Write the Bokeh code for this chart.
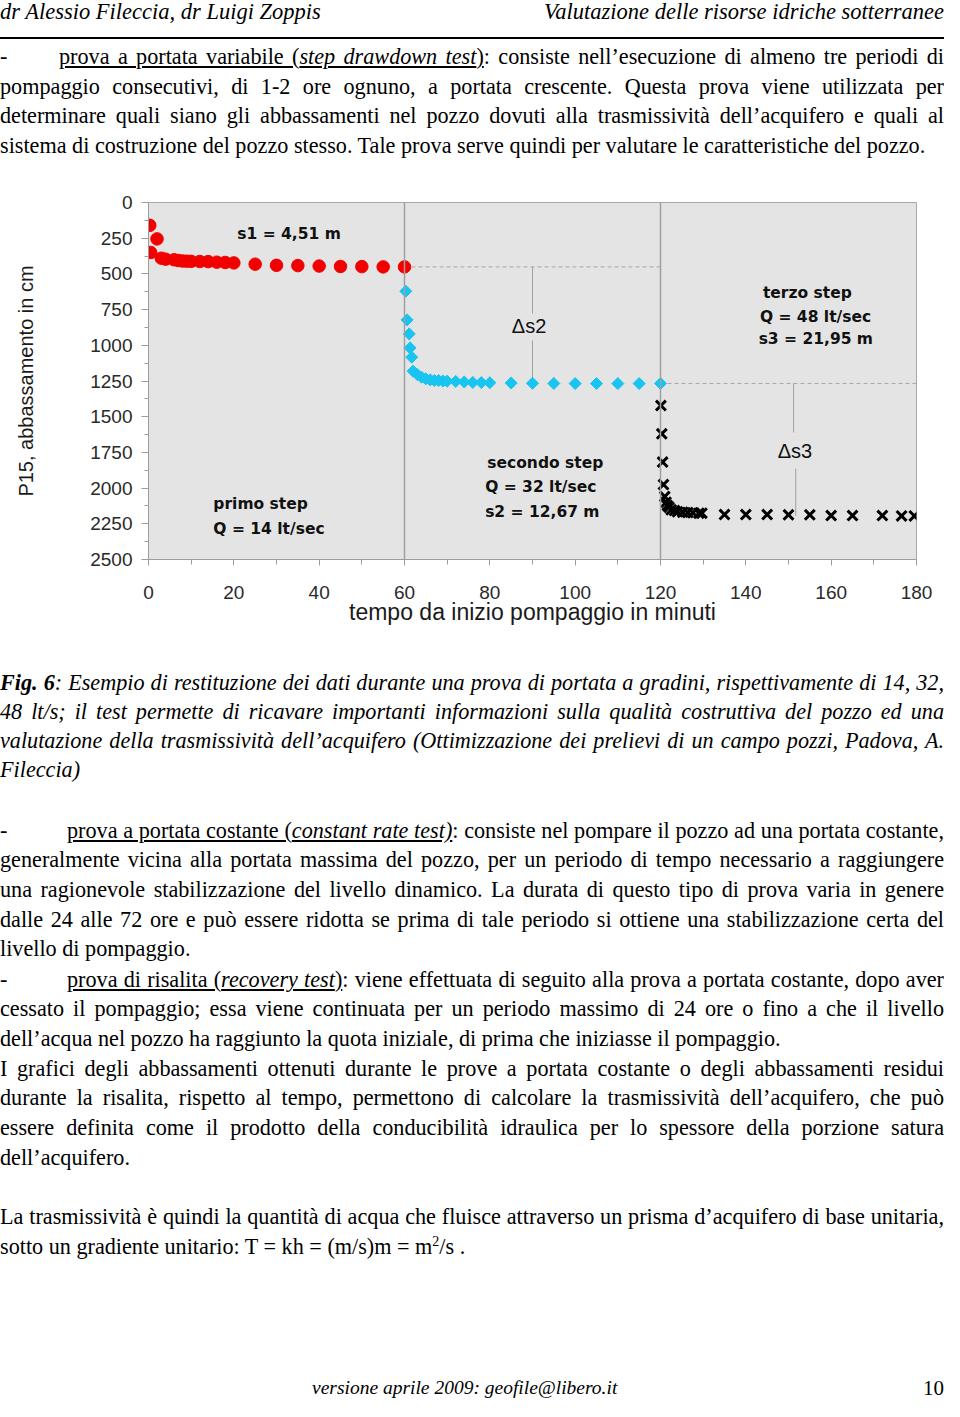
from bokeh.plotting import figure
from bokeh.models import Range1d, Div, Span, FixedTicker, ColumnDataSource
from bokeh.layouts import column
from bokeh.embed import file_html
from bokeh.resources import INLINE
from bokeh.core.properties import value
import numpy as np

# ---------------- data (minutes, drawdown in cm) ----------------
t_step1 = [0.3, 2.0, 0.5, 3.0, 4.0, 6.0, 7.0, 8.0, 9.0, 10.0, 12.0, 14.0, 16.0, 18.0,
           20.0, 25.0, 30.0, 35.0, 40.0, 45.0, 50.0, 55.0, 60.0]
s_step1 = [160, 255, 350, 390, 397, 401, 406, 410, 411, 412, 413, 414, 418, 420,
           423, 432, 440, 442, 445, 448, 449, 451, 451]

t_step2 = [60.3, 60.6, 61.1, 61.3, 61.7, 62.0, 63.0, 64.0, 65.0, 66.0, 67.0, 68.0, 69.0,
           70.0, 72.0, 74.0, 76.0, 78.0, 80.0, 85.0, 90.0, 95.0, 100.0, 105.0, 110.0,
           115.0, 120.0]
s_step2 = [621, 822, 920, 1018, 1083, 1181, 1205, 1223, 1235, 1242, 1246, 1247, 1250,
           1251, 1253, 1257, 1260, 1261, 1262, 1264, 1266, 1267, 1268, 1268, 1268,
           1268, 1267]

t_step3 = [120.1, 120.3, 120.5, 120.7, 121.0, 121.3, 121.6, 122.0, 122.5, 123.3, 124.0,
           125.2, 126.4, 127.6, 129.0, 129.7, 135.0, 140.0, 145.0, 150.0, 155.0, 160.0,
           165.0, 172.0, 176.5, 179.5]
s_step3 = [1422, 1620, 1818, 1975, 2059, 2099, 2122, 2134, 2152, 2157, 2166, 2169, 2171,
           2173, 2176, 2176, 2185, 2185, 2185, 2187, 2187, 2192, 2192, 2192, 2195, 2195]

step_ends = [60, 120]
x_ticks = [0, 20, 40, 60, 80, 100, 120, 140, 160, 180]
y_ticks = [0, 250, 500, 750, 1000, 1250, 1500, 1750, 2000, 2250, 2500]

x_title = "tempo da inizio pompaggio in minuti"
y_title = "P15, abbassamento in cm"

# ---------------- chart ----------------
p = figure(frame_width=768, frame_height=357,
           min_border_left=148, min_border_right=28,
           min_border_top=14, min_border_bottom=81,
           x_range=Range1d(0, 180), y_range=Range1d(2500, 0),
           output_backend="svg", toolbar_location=None, tools="",
           border_fill_color="white")
p.margin = 0
p.background_fill_color = "#e4e4e4"
p.outline_line_color = "#a8a8a8"
p.outline_line_width = 1
p.grid.visible = False

for ax in (p.xaxis[0], p.yaxis[0]):
    ax.axis_line_color = "#9c9c9c"
    ax.major_tick_line_color = "#9c9c9c"
    ax.minor_tick_line_color = "#9c9c9c"
    ax.major_tick_in = 0
    ax.minor_tick_in = 0
    ax.major_label_text_font = "Liberation Sans"
    ax.major_label_text_font_size = "19px"
    ax.major_label_text_color = "#2a2a2a"
    ax.axis_label_text_font = "Liberation Sans"
    ax.axis_label_text_font_style = "normal"
    ax.axis_label_text_color = "#1a1a1a"

p.xaxis.ticker = FixedTicker(ticks=x_ticks, minor_ticks=list(range(10, 180, 20)))
p.yaxis.ticker = FixedTicker(ticks=y_ticks, minor_ticks=list(range(125, 2500, 250)))
p.xaxis.major_tick_out = 6
p.xaxis.minor_tick_out = 5
p.yaxis.major_tick_out = 7
p.yaxis.minor_tick_out = 4
p.xaxis.major_label_standoff = 20
p.yaxis.major_label_standoff = 9
p.xaxis.axis_label = x_title
p.yaxis.axis_label = y_title
p.xaxis.axis_label_text_font_size = "23px"
p.yaxis.axis_label_text_font_size = "20px"
p.xaxis.axis_label_standoff = -3
p.yaxis.axis_label_standoff = 50

# step separators
for t in step_ends:
    p.add_layout(Span(location=t, dimension="height", line_color="#a0a0a0", line_width=1.5))

# dashed levels at end of steps
s1_end = s_step1[-1]
s2_end = s_step2[-1]
s3_end = s_step3[-1]
p.segment(x0=[step_ends[0], step_ends[1]], y0=[s1_end, s2_end],
          x1=[step_ends[1], 180], y1=[s1_end, s2_end],
          line_color="#a8a8a8", line_width=1, line_dash="4 3")

# delta markers (vertical connectors with a gap for the label)
p.segment(x0=[90, 90], y0=[s1_end, 966], x1=[90, 90], y1=[777, s2_end],
          line_color="#a0a0a0", line_width=1)
p.segment(x0=[151.2, 151.7], y0=[s2_end, 1863], x1=[151.2, 151.7], y1=[1611, s3_end],
          line_color="#a0a0a0", line_width=1)

# data
p.scatter(t_step1, s_step1, marker="circle", size=12.5, fill_color="#f20000",
          line_color="#f20000")
p.scatter(t_step2, s_step2, marker="square", angle=np.pi / 4, size=8.5,
          fill_color="#18c4f0", line_color="#18c4f0")
p.scatter(t_step3, s_step3, marker="x", size=14, line_color="black", line_width=3)

# annotations
bold = dict(text_font=value("DejaVu Sans"), text_font_style="bold",
            text_font_size="15.5px", text_color="#111111", text_baseline="middle")
ann = [
    (20.8, 224, "s1 = 4,51 m"),
    (15.2, 2108, "primo step"),
    (15.2, 2283, "Q = 14 lt/sec"),
    (79.4, 1821, "secondo step"),
    (78.9, 1989, "Q = 32 lt/sec"),
    (78.9, 2164, "s2 = 12,67 m"),
    (144.0, 637, "terzo step"),
    (143.3, 805, "Q = 48 lt/sec"),
    (143.0, 959, "s3 = 21,95 m"),
]
src = ColumnDataSource(dict(x=[a[0] for a in ann], y=[a[1] for a in ann],
                            t=[a[2] for a in ann]))
p.text(x="x", y="y", text="t", source=src, text_align="left", **bold)
p.text(x=[89.2, 151.5], y=[868, 1737], text=["\u0394s2", "\u0394s3"],
       text_font=value("Liberation Sans"), text_font_size="20px",
       text_color="#111111", text_align="center", text_baseline="middle")

# ---------------- page text ----------------
FONT = "font-family:'Liberation Serif','Times New Roman',serif;color:#000;"
FS = "22.2px"


def jline(top, html, left=0, width=944, justify=True, size=FS):
    if justify:
        al = "text-align:justify;text-align-last:justify;word-spacing:-1.5px;"
    else:
        al = "text-align:left;"
    return (f'<div style="position:absolute;left:{left}px;top:{top}px;width:{width - left}px;'
            f'height:30px;line-height:30px;white-space:nowrap;font-size:{size};{al}">'
            f'{html}</div>')


def dash(top):
    return jline(top, "-", justify=False, width=30)


def block(height, parts):
    return (f'<div style="position:relative;width:944px;height:{height}px;'
            f'overflow:hidden;{FONT}">' + "".join(parts) + "</div>")


top_parts = [
    '<div style="position:absolute;left:0;top:0;height:24px;line-height:24px;'
    'white-space:nowrap;font-size:22.5px;"><i>dr Alessio Fileccia, dr Luigi Zoppis</i></div>',
    '<div style="position:absolute;right:0;top:0;height:24px;line-height:24px;'
    'white-space:nowrap;font-size:22.5px;"><i>Valutazione delle risorse idriche sotterranee</i></div>',
    '<div style="position:absolute;left:0;top:37px;width:944px;height:2px;background:#000;"></div>',
    dash(42),
    jline(42, "<u>prova a portata variabile (<i>step drawdown test</i>)</u>: consiste "
              "nell\u2019esecuzione di almeno tre periodi di", left=59),
    jline(72, "pompaggio consecutivi, di 1-2 ore ognuno, a portata crescente. Questa prova "
              "viene utilizzata per"),
    jline(101, "determinare quali siano gli abbassamenti nel pozzo dovuti alla trasmissivit\u00e0 "
               "dell\u2019acquifero e quali al"),
    jline(131, "sistema di costruzione del pozzo stesso. Tale prova serve quindi per valutare "
               "le caratteristiche del pozzo.", justify=False),
]

bottom_parts = [
    jline(28, "<b><i>Fig. 6</i></b><i>: Esempio di restituzione dei dati durante una prova di "
              "portata a gradini, rispettivamente di 14, 32,</i>"),
    jline(57, "<i>48 lt/s; il test permette di ricavare importanti informazioni sulla qualit\u00e0 "
              "costruttiva del pozzo ed una</i>"),
    jline(86, "<i>valutazione della trasmissivit\u00e0 dell\u2019acquifero (Ottimizzazione dei "
              "prelievi di un campo pozzi, Padova, A.</i>"),
    jline(115, "<i>Fileccia)</i>", justify=False),
    dash(176),
    jline(176, "<u>prova a portata costante (<i>constant rate test)</i></u>: consiste nel pompare "
               "il pozzo ad una portata costante,", left=67),
    jline(205, "generalmente vicina alla portata massima del pozzo, per un periodo di tempo "
               "necessario a raggiungere"),
    jline(235, "una ragionevole stabilizzazione del livello dinamico. La durata di questo tipo "
               "di prova varia in genere"),
    jline(265, "dalle 24 alle 72 ore e pu\u00f2 essere ridotta se prima di tale periodo si ottiene "
               "una stabilizzazione certa del"),
    jline(294, "livello di pompaggio.", justify=False),
    dash(325),
    jline(325, "<u>prova di risalita (<i>recovery test</i>)</u>: viene effettuata di seguito alla "
               "prova a portata costante, dopo aver", left=67),
    jline(354, "cessato il pompaggio; essa viene continuata per un periodo massimo di 24 ore o "
               "fino a che il livello"),
    jline(384, "dell\u2019acqua nel pozzo ha raggiunto la quota iniziale, di prima che iniziasse "
               "il pompaggio.", justify=False),
    jline(414, "I grafici degli abbassamenti ottenuti durante le prove a portata costante o "
               "degli abbassamenti residui"),
    jline(443, "durante la risalita, rispetto al tempo, permettono di calcolare la "
               "trasmissivit\u00e0 dell\u2019acquifero, che pu\u00f2"),
    jline(473, "essere definita come il prodotto della conducibilit\u00e0 idraulica per lo "
               "spessore della porzione satura"),
    jline(503, "dell\u2019acquifero.", justify=False),
    jline(562, "La trasmissivit\u00e0 \u00e8 quindi la quantit\u00e0 di acqua che fluisce "
               "attraverso un prisma d\u2019acquifero di base unitaria,"),
    jline(592, "sotto un gradiente unitario: T = kh = (m/s)m = m<sup style=\"font-size:14px;"
               "line-height:0\">2</sup>/s .", justify=False),
    '<div style="position:absolute;left:312px;top:736px;height:24px;line-height:24px;'
    'font-size:19.5px;white-space:nowrap;">'
    '<i>versione aprile 2009: geofile@libero.it</i></div>',
    '<div style="position:absolute;right:0;top:736px;height:24px;line-height:24px;'
    'font-size:21px;">10</div>',
]

top_div = Div(text=block(188, top_parts), width=944, height=188, margin=0)
bottom_div = Div(text=block(761, bottom_parts), width=944, height=761, margin=0)

layout = column(top_div, p, bottom_div, spacing=0)

open("out.html", "w").write(file_html(layout, INLINE))
